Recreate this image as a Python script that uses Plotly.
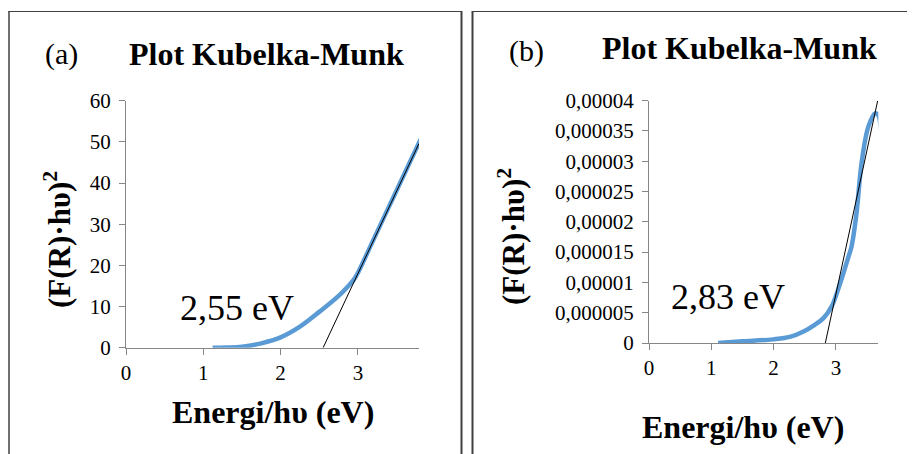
import plotly.graph_objects as go

# page has an 8px body margin: figure drawn at (8, 8)
OFF = 8
W, H = 915 - OFF, 454 - OFF

# Panel (a) data
xa = [1.12, 1.3, 1.5, 1.75, 2.0, 2.25, 2.5, 2.75, 2.9, 2.95, 3.0, 3.2, 3.4, 3.6, 3.82]
ya = [0.0, 0.05, 0.25, 1.06, 2.5, 5.1, 8.7, 12.6, 15.5, 16.6, 18.2, 26.2, 34.2, 42.2, 51.0]
tan_a_x = [2.55, 3.79]
tan_a_y = [0.0, 49.6]
yticks_a = [0, 10, 20, 30, 40, 50, 60]
xticks = [0, 1, 2, 3]

# Panel (b) data
xb = [1.11, 1.5, 1.99, 2.26, 2.48, 2.66, 2.80, 2.93, 3.06, 3.20, 3.25, 3.33, 3.41, 3.52, 3.63, 3.68, 3.72]
yb = [0.0, 0.27e-6, 0.6e-6, 1.0e-6, 1.9e-6, 3.0e-6, 4.1e-6, 6.0e-6, 9.6e-6, 14.2e-6, 15.9e-6,
      21.4e-6, 29.6e-6, 35.7e-6, 37.9e-6, 37.6e-6, 35.4e-6]
tan_b_x = [2.83, 3.67]
tan_b_y = [0.0, 4e-5]
yticks_b = [0, 0.000005, 0.00001, 0.000015, 0.00002, 0.000025, 0.00003, 0.000035, 0.00004]
yticks_b_text = ["0", "0,000005", "0,00001", "0,000015", "0,00002", "0,000025", "0,00003", "0,000035", "0,00004"]

titles = ["Plot Kubelka-Munk", "Plot Kubelka-Munk"]
panel_labels = ["(a)", "(b)"]
gaps = ["2,55 eV", "2,83 eV"]
xtitle = "<b>Energi/hυ (eV)</b>"
ytitle = "<b>(F(R)·hυ)<sup>2</sup></b>"

BLUE = "#5B9BD5"
AX = "#868686"
FONT = "Liberation Serif, Times New Roman, serif"

def px(x):
    return (x - OFF) / W

def py(y):
    return 1 - (y - OFF) / H

fig = go.Figure()
fig.add_trace(go.Scatter(x=xa, y=ya, mode="lines", line=dict(color=BLUE, width=4.5, shape="spline"),
                         xaxis="x", yaxis="y", showlegend=False, hoverinfo="skip"))
fig.add_trace(go.Scatter(x=tan_a_x, y=tan_a_y, mode="lines", line=dict(color="black", width=1),
                         xaxis="x", yaxis="y", showlegend=False, hoverinfo="skip"))
fig.add_trace(go.Scatter(x=xb, y=yb, mode="lines", line=dict(color=BLUE, width=4.5, shape="spline"),
                         xaxis="x2", yaxis="y2", showlegend=False, hoverinfo="skip"))
fig.add_trace(go.Scatter(x=tan_b_x, y=tan_b_y, mode="lines", line=dict(color="black", width=1),
                         xaxis="x2", yaxis="y2", showlegend=False, hoverinfo="skip"))

axcommon = dict(showgrid=False, zeroline=False, showline=True, linecolor=AX, linewidth=1,
                ticks="outside", ticklen=6, tickcolor=AX, tickwidth=1, automargin=False,
                tickfont=dict(family=FONT, size=21, color="black"), fixedrange=True)

fig.update_layout(
    template="none",
    width=W, height=H, margin=dict(l=0, r=0, t=0, b=0, pad=0, autoexpand=False),
    paper_bgcolor="white", plot_bgcolor="white", showlegend=False,
    xaxis=dict(domain=[px(126), px(419)], range=[0, 3.79], anchor="y",
               tickvals=xticks, ticktext=[str(v) for v in xticks], **axcommon),
    yaxis=dict(domain=[py(347.7), py(100.7)], range=[0, 60], anchor="x", ticklabelstandoff=4,
               tickvals=yticks_a, ticktext=[str(v) for v in yticks_a], **axcommon),
    xaxis2=dict(domain=[px(649), px(878.3)], range=[0, 3.68], anchor="y2",
                tickvals=xticks, ticktext=[str(v) for v in xticks], **axcommon),
    yaxis2=dict(domain=[py(343), py(100.7)], range=[0, 4e-5], anchor="x2", ticklabelstandoff=4,
                tickvals=yticks_b, ticktext=yticks_b_text, **axcommon),
)

anns = []
def ann(text, x, y, size, bold=False, angle=0):
    anns.append(dict(text=("<b>%s</b>" % text) if bold else text, x=px(x), y=py(y), xref="paper", yref="paper",
                     showarrow=False, xanchor="center", yanchor="middle", textangle=angle,
                     font=dict(family=FONT, size=size, color="black")))

ann(titles[0], 266.5, 54, 32, bold=True)
ann(titles[1], 739, 48, 32, bold=True)
ann(panel_labels[0], 61, 54, 30)
ann(panel_labels[1], 526, 51, 30)
ann(gaps[0], 236.7, 308, 36)
ann(gaps[1], 727.5, 297, 36)
ann(xtitle, 273, 412, 32)
ann(xtitle, 743, 427, 32)
ann(ytitle, 58, 240, 31, angle=-90)
ann(ytitle, 511, 236, 31, angle=-90)
fig.update_layout(annotations=anns)

BORDER = "#404040"
shapes = []
def seg(x0, y0, x1, y1, w):
    shapes.append(dict(type="line", xref="paper", yref="paper", x0=px(x0), y0=py(y0), x1=px(x1), y1=py(y1),
                       line=dict(color=BORDER, width=w)))
seg(8.5, 11.5, 462, 11.5, 1)
seg(9, 11, 9, 454, 1.5)
seg(461.5, 11, 461.5, 454, 2)
seg(472.5, 11.5, 915, 11.5, 1)
seg(472.5, 11, 472.5, 454, 2)
fig.update_layout(shapes=shapes)

fig.write_html("out.html")
